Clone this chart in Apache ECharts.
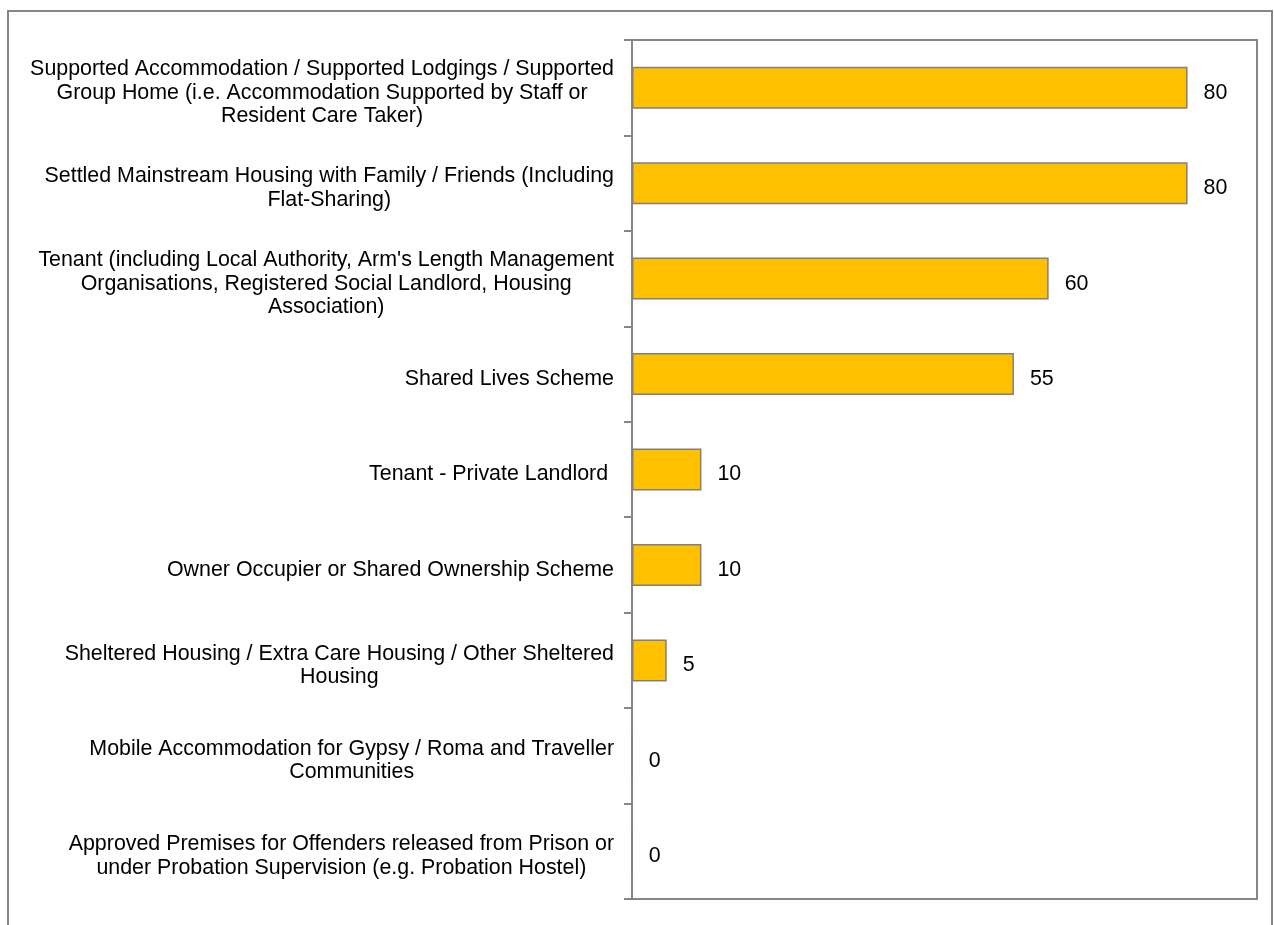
<!DOCTYPE html>
<html>
<head>
<meta charset="utf-8">
<script src="https://cdn.jsdelivr.net/npm/echarts@6/dist/echarts.min.js"></script>
<style>
  html, body { margin: 0; padding: 0; background: #ffffff; }
  #chart { width: 1274px; height: 925px; }
</style>
</head>
<body>
<div id="chart"></div>
<script>
// Accommodation types (top to bottom), with line breaks as they are shown
const categories = [
  "Supported Accommodation / Supported Lodgings / Supported\nGroup Home (i.e. Accommodation Supported by Staff or\nResident Care Taker)",
  "Settled Mainstream Housing with Family / Friends (Including\nFlat-Sharing)",
  "Tenant (including Local Authority, Arm's Length Management\nOrganisations, Registered Social Landlord, Housing\nAssociation)",
  "Shared Lives Scheme",
  "Tenant - Private Landlord ",
  "Owner Occupier or Shared Ownership Scheme",
  "Sheltered Housing / Extra Care Housing / Other Sheltered\nHousing",
  "Mobile Accommodation for Gypsy / Roma and Traveller\nCommunities",
  "Approved Premises for Offenders released from Prison or\nunder Probation Supervision (e.g. Probation Hostel)"
];
const values = [80, 80, 60, 55, 10, 10, 5, 0, 0];
const valueMin = 0;
const valueMax = 90;

const FONT = "'Liberation Sans', Arial, Helvetica, sans-serif";
const FONT_SIZE = 21.4;
const GREY = '#868686';

const chart = echarts.init(document.getElementById('chart'), null, { renderer: 'canvas' });

chart.setOption({
  animation: false,
  backgroundColor: '#ffffff',
  graphic: [{
    type: 'rect',
    shape: { x: 8, y: 11, width: 1264, height: 960 },
    style: { fill: 'none', stroke: GREY, lineWidth: 2 },
    silent: true,
    z: 0
  }],
  grid: {
    left: 632, right: 17, top: 40, bottom: 26,
    show: true,
    borderColor: GREY,
    borderWidth: 2,
    backgroundColor: 'transparent'
  },
  xAxis: {
    type: 'value',
    min: valueMin,
    max: valueMax,
    axisLine: { show: false },
    axisTick: { show: false },
    axisLabel: { show: false },
    splitLine: { show: false }
  },
  yAxis: {
    type: 'category',
    inverse: true,
    data: categories,
    axisLine: { show: true, lineStyle: { color: GREY, width: 2 } },
    axisTick: { show: true, length: 8, lineStyle: { color: GREY, width: 2 } },
    splitLine: { show: false },
    axisLabel: {
      margin: 18,
      padding: [10, 0, 0, 0],
      color: '#000000',
      fontFamily: FONT,
      fontSize: FONT_SIZE,
      lineHeight: 23.5,
      formatter: function (v) {
        return v.split('\n').map(function (l) { return '{c|' + l + '}'; }).join('\n');
      },
      rich: {
        c: { align: 'center', color: '#000000', fontFamily: FONT, fontSize: FONT_SIZE, lineHeight: 23.5 }
      }
    }
  },
  series: [{
    type: 'bar',
    data: values,
    barWidth: '44%',
    itemStyle: { color: '#FFC000', borderColor: '#808080', borderWidth: 1.5 },
    label: {
      show: true,
      position: 'right',
      distance: 16,
      offset: [0, 5],
      color: '#000000',
      fontFamily: FONT,
      fontSize: FONT_SIZE
    }
  }]
});
</script>
</body>
</html>
